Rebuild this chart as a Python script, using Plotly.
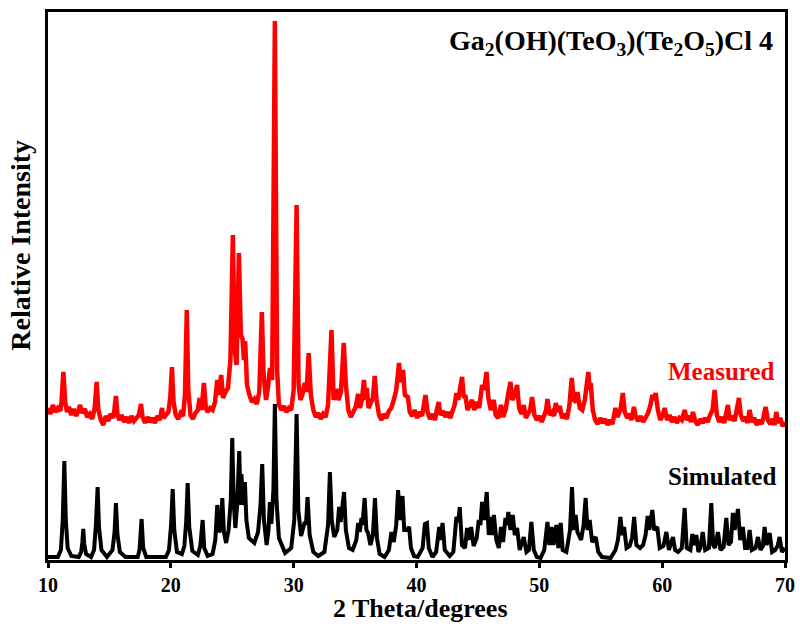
import plotly.graph_objects as go

# ---------------- data ----------------
# x: 2-theta (degrees); y: relative intensity (arbitrary units, measured pattern offset upward)

sim_two_theta = [
    10.0, 10.8, 11.05, 11.2, 11.33, 11.45, 11.6, 11.9,
    12.5, 12.7, 12.8, 12.87, 12.95, 13.1,
    13.5, 13.75, 13.9, 14.04, 14.15, 14.35,
    14.8, 15.25, 15.42, 15.53, 15.65, 15.85,
    16.3, 17.3, 17.45, 17.62, 17.75, 18.0,
    19.6, 19.85, 20.02, 20.15, 20.28, 20.5,
    20.9, 21.1, 21.25, 21.37, 21.5, 21.75,
    22.2, 22.4, 22.59, 22.72, 23.0,
    23.4, 23.62, 23.78, 23.92, 24.05, 24.19, 24.32, 24.5,
    24.7, 24.88, 25.0, 25.12, 25.25, 25.4, 25.57, 25.68, 25.75, 25.85, 26.03, 26.15, 26.35,
    26.8, 27.1, 27.3, 27.44, 27.58, 27.8, 27.95, 28.06, 28.18, 28.35, 28.47, 28.6, 28.8,
    29.3, 29.8, 30.05, 30.24, 30.38, 30.6, 30.9, 31.0, 31.13, 31.3, 31.6,
    32.0, 32.5, 32.8, 32.95, 33.1, 33.3, 33.55, 33.7, 33.82, 33.92, 34.1, 34.25, 34.5,
    34.8, 35.1, 35.25, 35.38, 35.52, 35.6, 35.78, 35.92, 36.06, 36.25, 36.45, 36.62, 36.78, 37.0,
    37.4, 37.75, 37.96, 38.15, 38.35, 38.5, 38.65, 38.86, 39.0, 39.2, 39.4, 39.55, 39.8,
    40.1, 40.5, 40.68, 40.85, 41.0, 41.3, 41.6, 41.85, 41.97, 42.12, 42.3, 42.7,
    43.0, 43.25, 43.4, 43.52, 43.7, 43.95, 44.12, 44.3, 44.45, 44.65,
    44.9, 45.07, 45.2, 45.34, 45.5, 45.72, 45.88, 46.0, 46.15, 46.3, 46.5,
    46.7, 46.88, 47.05, 47.24, 47.35, 47.48, 47.65, 47.84, 48.0, 48.19, 48.4,
    48.73, 48.95, 49.15, 49.35, 49.55, 49.8,
    50.1, 50.4, 50.66, 50.82, 51.0, 51.15, 51.39, 51.55, 51.74, 51.9,
    52.2, 52.5, 52.66, 52.8, 52.96, 53.1, 53.4, 53.6, 53.77, 53.92, 54.1, 54.3, 54.59, 54.8,
    55.1, 55.8, 56.2, 56.4, 56.6, 56.75, 56.9, 57.1,
    57.35, 57.55, 57.72, 57.9, 58.2, 58.45, 58.65, 58.82, 58.95, 59.2, 59.35, 59.6, 59.8,
    60.1, 60.34, 60.55, 60.88, 61.05, 61.3, 61.6, 61.83, 62.0,
    62.3, 62.46, 62.6, 62.78, 62.95, 63.1, 63.3, 63.5,
    63.8, 64.0, 64.15, 64.3, 64.54, 64.75, 65.0, 65.22, 65.4,
    65.6, 65.76, 65.9, 66.17, 66.35, 66.57, 66.75, 66.95, 67.12, 67.3,
    67.6, 67.8, 68.0, 68.2, 68.34, 68.5, 68.75, 68.95, 69.2, 69.4, 69.56, 69.75, 70.0,
]
sim_intensity = [
    3, 3, 10, 40, 99, 40, 12, 4,
    3, 8, 18, 31, 16, 6,
    3, 10, 35, 73, 33, 10,
    3, 10, 28, 57, 26, 8,
    3, 3, 10, 41, 12, 3,
    3, 10, 35, 71, 30, 8,
    6, 14, 38, 77, 33, 9,
    5, 14, 40, 12, 4,
    6, 20, 55, 28, 30, 62, 28, 17,
    30, 60, 122, 58, 32, 55, 109, 55, 86, 55, 78, 40, 22,
    17, 28, 55, 96, 40, 15, 30, 58, 36, 70, 156, 60, 22,
    7, 12, 40, 146, 50, 24, 38, 35, 63, 25, 8,
    4, 8, 35, 88, 40, 23, 30, 53, 38, 48, 68, 30, 12,
    10, 20, 37, 28, 42, 35, 62, 30, 27, 15, 25, 62, 22, 6,
    3, 10, 28, 18, 35, 70, 40, 64, 30, 30, 33, 12, 4,
    3, 12, 36, 37, 12, 3, 8, 33, 20, 37, 10, 4,
    8, 43, 38, 53, 15, 12, 32, 20, 33, 14,
    22, 40, 35, 58, 40, 68, 25, 43, 25, 45, 20,
    12, 33, 18, 42, 35, 48, 30, 45, 25, 32, 10,
    23, 8, 10, 38, 10, 3,
    2, 10, 38, 15, 33, 15, 35, 12, 37, 10,
    8, 30, 73, 30, 45, 28, 20, 35, 62, 30, 40, 18, 23, 8,
    3, 2, 10, 20, 43, 25, 33, 12,
    14, 22, 43, 15, 12, 15, 25, 44, 30, 50, 30, 33, 12,
    14, 28, 10, 23, 10, 8, 12, 52, 12,
    10, 26, 15, 25, 8, 12, 28, 10,
    12, 57, 15, 12, 28, 10, 13, 42, 15,
    18, 47, 30, 51, 20, 33, 12, 12, 30, 10,
    12, 23, 10, 14, 33, 15, 27, 8, 10, 14, 23, 8, 12,
]

meas_two_theta = [
    10.0, 10.2, 10.4, 10.6, 10.8, 11.0, 11.1, 11.25, 11.4, 11.55, 11.7, 11.9,
    12.1, 12.3, 12.5, 12.6, 12.8, 13.0, 13.2, 13.4, 13.6, 13.8, 13.96, 14.1,
    14.3, 14.5, 14.7, 14.9, 15.1, 15.3, 15.4, 15.53, 15.65, 15.8, 16.0, 16.2,
    16.4, 16.6, 16.8, 17.0, 17.2, 17.4, 17.57, 17.7, 17.9, 18.1, 18.3, 18.5,
    18.7, 18.9, 19.1, 19.28, 19.4, 19.6, 19.8, 19.95, 20.09, 20.22, 20.4, 20.6,
    20.8, 21.0, 21.15, 21.3, 21.42, 21.6, 21.8, 22.0, 22.2, 22.34, 22.5, 22.69,
    22.85, 23.0, 23.2, 23.4, 23.6, 23.78, 23.9, 24.1, 24.25, 24.45, 24.65, 24.85,
    25.05, 25.2, 25.35, 25.54, 25.7, 25.84, 25.95, 26.05, 26.2, 26.4, 26.6, 26.8,
    27.0, 27.2, 27.41, 27.55, 27.75, 27.9, 28.07, 28.25, 28.47, 28.65, 28.8, 29.0,
    29.2, 29.4, 29.6, 29.8, 30.0, 30.24, 30.4, 30.55, 30.7, 30.9, 31.05, 31.22,
    31.4, 31.6, 31.8, 32.0, 32.2, 32.4, 32.6, 32.8, 33.08, 33.25, 33.49, 33.65,
    33.85, 34.08, 34.25, 34.45, 34.65, 34.85, 35.05, 35.25, 35.4, 35.55, 35.72, 35.85,
    35.95, 36.1, 36.3, 36.45, 36.6, 36.75, 36.95, 37.15, 37.35, 37.55, 37.75, 37.95,
    38.15, 38.35, 38.58, 38.7, 38.91, 39.05, 39.3, 39.45, 39.65, 39.85, 40.05, 40.25,
    40.45, 40.6, 40.73, 40.9, 41.1, 41.3, 41.5, 41.65, 41.81, 41.95, 42.15, 42.35,
    42.55, 42.75, 42.95, 43.1, 43.25, 43.4, 43.55, 43.71, 43.85, 43.98, 44.15, 44.35,
    44.52, 44.7, 44.93, 45.1, 45.34, 45.5, 45.7, 45.85, 46.05, 46.29, 46.45, 46.65,
    46.88, 47.05, 47.25, 47.45, 47.65, 47.8, 48.0, 48.19, 48.35, 48.55, 48.73, 48.9,
    49.1, 49.25, 49.41, 49.6, 49.8, 50.0, 50.2, 50.4, 50.55, 50.66, 50.85, 51.05,
    51.2, 51.34, 51.5, 51.66, 51.85, 52.05, 52.25, 52.45, 52.64, 52.8, 53.0, 53.1,
    53.3, 53.5, 53.7, 53.99, 54.1, 54.18, 54.35, 54.55, 54.75, 54.95, 55.15, 55.35,
    55.55, 55.75, 55.95, 56.2, 56.35, 56.6, 56.8, 56.95, 57.15, 57.35, 57.5, 57.7,
    57.85, 58.05, 58.25, 58.45, 58.65, 58.85, 59.05, 59.2, 59.35, 59.47, 59.65, 59.85,
    60.05, 60.2, 60.4, 60.6, 60.8, 61.0, 61.2, 61.4, 61.6, 61.83, 62.0, 62.2,
    62.35, 62.5, 62.7, 62.9, 63.1, 63.3, 63.5, 63.7, 63.9, 64.1, 64.27, 64.45,
    64.65, 64.85, 65.05, 65.2, 65.35, 65.5, 65.7, 65.9, 66.1, 66.25, 66.4, 66.6,
    66.8, 66.95, 67.12, 67.3, 67.5, 67.7, 67.9, 68.1, 68.25, 68.42, 68.6, 68.8,
    69.0, 69.15, 69.29, 69.45, 69.6, 69.8, 70.0,
]
meas_intensity = [
    152, 146, 155, 148, 152, 149, 158, 188, 158, 148, 153, 145,
    151, 144, 150, 155, 147, 151, 143, 146, 141, 152, 178, 150,
    140, 135, 144, 139, 146, 142, 150, 164, 146, 140, 145, 138,
    143, 137, 144, 139, 142, 145, 156, 143, 137, 143, 138, 142,
    137, 144, 140, 152, 142, 146, 148, 162, 193, 158, 145, 141,
    147, 144, 165, 250, 170, 145, 141, 147, 150, 162, 150, 177,
    152, 148, 152, 150, 158, 180, 165, 185, 162, 168, 172, 200,
    325, 210, 195, 307, 225, 221, 200, 219, 175, 165, 158, 161,
    156, 168, 248, 185, 160, 172, 192, 180, 539, 190, 155, 150,
    154, 148, 152, 150, 170, 355, 175, 160, 165, 177, 168, 207,
    165, 150, 143, 147, 141, 146, 143, 155, 230, 160, 171, 160,
    168, 217, 175, 150, 143, 148, 153, 166, 152, 160, 180, 160,
    172, 152, 158, 162, 184, 160, 145, 140, 146, 142, 149, 152,
    160, 170, 197, 178, 190, 165, 163, 148, 144, 150, 142, 148,
    144, 155, 165, 148, 141, 146, 140, 150, 158, 145, 149, 143,
    148, 142, 150, 155, 167, 160, 172, 183, 162, 165, 150, 155,
    160, 150, 158, 152, 175, 170, 188, 162, 150, 160, 145, 142,
    155, 143, 150, 165, 178, 160, 165, 175, 152, 146, 155, 142,
    146, 150, 163, 145, 140, 144, 138, 145, 150, 161, 145, 148,
    144, 157, 148, 154, 142, 146, 141, 155, 182, 160, 158, 168,
    152, 150, 160, 188, 170, 177, 150, 140, 136, 142, 137, 141,
    135, 140, 136, 152, 143, 150, 167, 148, 142, 146, 140, 153,
    143, 139, 144, 138, 143, 147, 155, 165, 160, 167, 150, 140,
    145, 152, 140, 145, 138, 143, 137, 142, 140, 150, 140, 144,
    138, 148, 139, 135, 141, 137, 142, 138, 145, 150, 170, 145,
    138, 143, 137, 145, 155, 140, 144, 139, 150, 162, 145, 139,
    143, 137, 150, 138, 142, 135, 140, 136, 143, 153, 140, 136,
    141, 135, 148, 137, 142, 134, 138,
]

x_ticks = [10, 20, 30, 40, 50, 60, 70]
title_text = "Ga<sub>2</sub>(OH)(TeO<sub>3</sub>)(Te<sub>2</sub>O<sub>5</sub>)Cl 4"
label_measured = "Measured"
label_simulated = "Simulated"
x_title = "2 Theta/degrees"
y_title = "Relative Intensity"

# ---------------- figure ----------------
FONT = "Liberation Serif, Times New Roman, serif"

fig = go.Figure()
fig.add_trace(go.Scatter(x=meas_two_theta, y=meas_intensity, mode="lines",
                         line=dict(color="#ff0000", width=4.5), showlegend=False))
fig.add_trace(go.Scatter(x=sim_two_theta, y=sim_intensity, mode="lines",
                         line=dict(color="#000000", width=4), showlegend=False))

ann_font = dict(family=FONT, weight="bold")
fig.add_annotation(x=69.2, y=518, xref="x", yref="y", text=title_text, showarrow=False,
                   xanchor="right", yanchor="middle",
                   font=dict(size=28, color="black", **ann_font))
fig.add_annotation(x=69.35, y=189, xref="x", yref="y", text=label_measured, showarrow=False,
                   xanchor="right", yanchor="middle",
                   font=dict(size=25, color="#ff0000", **ann_font))
fig.add_annotation(x=69.43, y=84, xref="x", yref="y", text=label_simulated, showarrow=False,
                   xanchor="right", yanchor="middle",
                   font=dict(size=25, color="black", **ann_font))
fig.add_annotation(x=0.506, y=-0.0885, xref="paper", yref="paper", text=x_title, showarrow=False,
                   xanchor="center", yanchor="middle",
                   font=dict(size=26, color="black", **ann_font))
fig.add_annotation(x=-0.037, y=0.575, xref="paper", yref="paper", text=y_title, showarrow=False,
                   xanchor="center", yanchor="middle", textangle=-90,
                   font=dict(size=28, color="black", **ann_font))

fig.update_xaxes(range=[10, 70], tickvals=x_ticks, ticktext=[str(v) for v in x_ticks],
                 ticks="outside", ticklen=5, tickwidth=3, tickcolor="black",
                 showline=True, linewidth=3, linecolor="black", mirror=True,
                 showgrid=False, zeroline=False, ticklabelstandoff=0, automargin=False,
                 tickfont=dict(family=FONT, size=20, color="black", weight="bold"))
fig.update_yaxes(range=[0, 548], showticklabels=False, ticks="",
                 showline=True, linewidth=3, linecolor="black", mirror=True,
                 showgrid=False, zeroline=False, automargin=False)

fig.update_layout(width=800, height=628, margin=dict(l=48, r=15, t=12, b=68, autoexpand=False),
                  paper_bgcolor="white", plot_bgcolor="white")

fig.write_html("out.html")
